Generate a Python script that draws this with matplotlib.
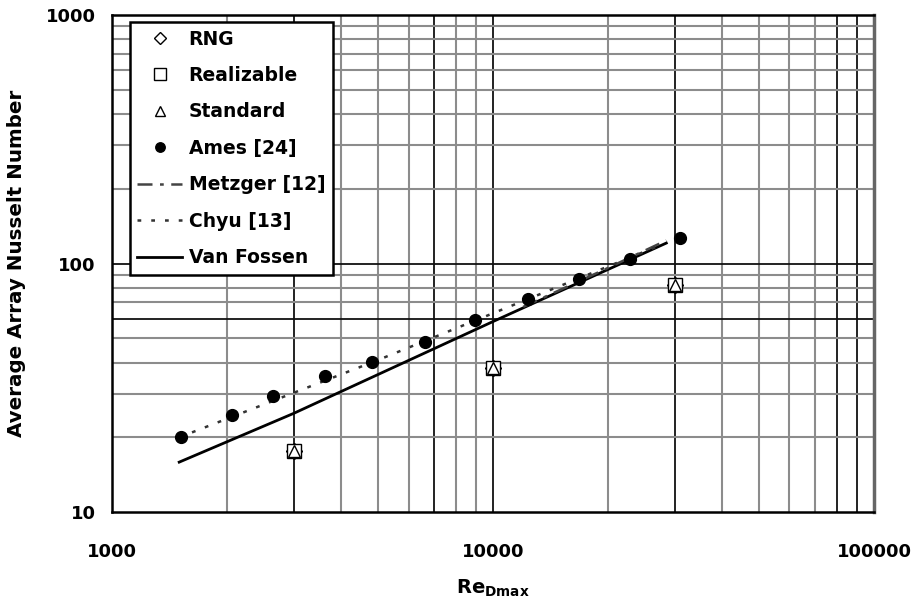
import matplotlib
matplotlib.use('Agg')
import matplotlib.pyplot as plt
from matplotlib.ticker import FixedLocator, NullLocator

plt.rcParams['font.family'] = ['DejaVu Sans']
plt.rcParams['font.weight'] = 'bold'
plt.rcParams['mathtext.default'] = 'regular'

# CFD results (RNG, Realizable, Standard k-epsilon) - they sit on top of each other
re_cfd = [3000, 10000, 30000]
nu_rng = [17.6, 38.0, 82.0]
nu_realizable = [17.6, 38.0, 82.0]
nu_standard = [17.6, 38.0, 82.0]

# Ames [24] data
re_ames = [1515, 2070, 2640, 3630, 4820, 6640, 8970, 12350, 16800, 22850, 31000]
nu_ames = [20.0, 24.6, 29.3, 35.3, 40.2, 48.3, 59.3, 72.0, 86.6, 104.3, 126.6]

# correlations
re_metzger = [12000, 20000, 28500]
nu_metzger = [67.0, 96.0, 124.0]

re_chyu = [1500, 5000, 28000]
nu_chyu = [20.0, 41.0, 120.0]

re_vanfossen = [1500, 3000, 10000, 28500]
nu_vanfossen = [15.9, 25.0, 58.5, 121.0]

# grid positions, the scanned original has some minor lines darker than others
x_grid = [2000, 3000, 4000, 5000, 6000, 7000, 8000, 9000,
          20000, 30000, 40000, 50000, 60000, 70000, 80000, 90000]
x_grid_dark = [3000, 7000, 10000, 30000, 80000, 90000]
y_grid = [20, 30, 40, 50, 60, 70, 80, 90,
          200, 300, 400, 500, 600, 700, 800, 900]
y_grid_dark = [60, 100]

fig = plt.figure(figsize=(9.19, 6.04), dpi=100)
ax = fig.add_axes([0.122, 0.152, 0.829, 0.823])

ax.set_xscale('log')
ax.set_yscale('log')
ax.set_xlim(1000, 100000)
ax.set_ylim(10, 1000)

for xv in x_grid + [10000]:
    if xv in x_grid_dark:
        ax.axvline(xv, color='#111111', lw=1.3, zorder=1)
    else:
        ax.axvline(xv, color='#8c8c8c', lw=1.5, zorder=1)
for yv in y_grid + [100]:
    if yv in y_grid_dark:
        ax.axhline(yv, color='#111111', lw=1.3, zorder=1)
    else:
        ax.axhline(yv, color='#8c8c8c', lw=1.5, zorder=1)

ax.plot(re_vanfossen, nu_vanfossen, color='black', lw=2.0, ls='-', label='Van Fossen', zorder=3)
ax.plot(re_metzger, nu_metzger, color='#444444', lw=1.8, ls=(0, (6, 3, 1.5, 3)), label='Metzger [12]', zorder=3)
ax.plot(re_chyu, nu_chyu, color='#333333', lw=1.8, ls=(0, (1.5, 4)), label='Chyu [13]', zorder=3)
ax.plot(re_ames, nu_ames, 'o', color='black', ms=8.5, label='Ames [24]', zorder=4)
ax.plot(re_cfd, nu_rng, 'D', mfc='white', mec='black', mew=1.0, ms=8, label='RNG', zorder=5)
ax.plot(re_cfd, nu_realizable, 's', mfc='white', mec='black', mew=1.0, ms=10, label='Realizable', zorder=5)
ax.plot(re_cfd, nu_standard, '^', mfc='white', mec='black', mew=1.0, ms=9, label='Standard', zorder=6)

ax.xaxis.set_major_locator(FixedLocator([1000, 10000, 100000]))
ax.yaxis.set_major_locator(FixedLocator([10, 100, 1000]))
ax.xaxis.set_minor_locator(NullLocator())
ax.yaxis.set_minor_locator(NullLocator())
ax.set_xticklabels(['1000', '10000', '100000'])
ax.set_yticklabels(['10', '100', '1000'])
ax.tick_params(which='both', length=0)
ax.tick_params(axis='x', pad=22, labelsize=13)
ax.tick_params(axis='y', pad=12, labelsize=13)

for s in ax.spines.values():
    s.set_linewidth(1.8)
    s.set_color('black')
ax.spines['right'].set_color('#666666')
ax.spines['right'].set_linewidth(2.5)

ax.set_xlabel(r'Re$_{\rm Dmax}$', fontsize=14, fontweight='bold', labelpad=12)
ax.set_ylabel('Average Array Nusselt Number', fontsize=14.3, fontweight='bold', labelpad=14)

handles, labels = ax.get_legend_handles_labels()
order = ['RNG', 'Realizable', 'Standard', 'Ames [24]', 'Metzger [12]', 'Chyu [13]', 'Van Fossen']
hmap = dict(zip(labels, handles))
leg = ax.legend([hmap[k] for k in order], order, loc='upper left',
                bbox_to_anchor=(0.023, 0.986), fontsize=13.5, frameon=True,
                fancybox=False, edgecolor='black', framealpha=1,
                labelspacing=0.93, handlelength=2.4, handletextpad=0.35,
                borderpad=0.4, borderaxespad=0.0, markerscale=0.8)
leg.get_frame().set_linewidth(1.8)
leg.set_zorder(10)

fig.savefig('out.png', dpi=100)
